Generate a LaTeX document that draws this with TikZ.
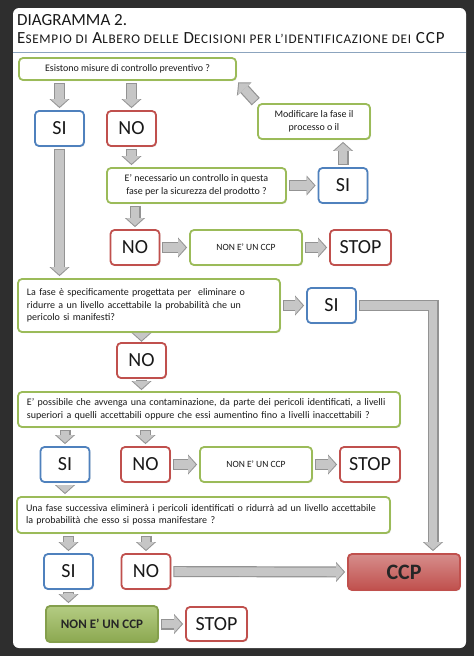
\documentclass[tikz,border=0pt]{standalone}
\usepackage{fontspec}
\setmainfont{Carlito}
\usepackage{tikz}
\usetikzlibrary{positioning, shapes, calc, arrows.meta, shadows}

\definecolor{boxgreen}{RGB}{155,187,89}
\definecolor{boxblue}{RGB}{79,129,189}
\definecolor{boxred}{RGB}{192,80,77}
\definecolor{rulegray}{RGB}{140,164,190}
\definecolor{inkgray}{RGB}{25,25,25}
\newcommand{\minorcaps}[1]{{\fontsize{13.2}{14}\selectfont #1}}

\begin{document}
\begin{tikzpicture}[x=1pt,y=-1pt,
	every node/.append style={text=inkgray, font=\fontsize{10}{12.5}\selectfont},
	box/.style={draw=#1, line width=1.8pt, fill=white, rounded corners=4pt, inner sep=0pt,
		drop shadow={opacity=.2, shadow xshift=1pt, shadow yshift=-1.2pt}},
	ans/.style={box=#1, minimum width=\answ pt, minimum height=\boxh pt, font=\fontsize{20}{20}\selectfont},
	quest/.style={box=boxgreen, align=left, text width=#1, inner xsep=9pt, minimum height=\boxh pt},
	garrow/.style={
		preaction={draw=gray!85, line width=11pt, shorten <=#1, shorten >=#1,
			-{Triangle[width=20pt,length=9pt,line width=0pt]}},
		draw=gray!45, line width=8.6pt, shorten <=#1+1pt, shorten >=#1+1.4pt,
		-{Triangle[width=17pt,length=7.5pt,line width=0pt]}},
	garrow/.default=2pt]

% set box dimensions
\pgfmathsetmacro{\answ}{49}
\pgfmathsetmacro{\boxh}{35}
\pgfmathsetmacro{\wide}{112}

% dark frame and white sheet
\fill[black!82] (0,0) rectangle (474,656);
\fill[white, rounded corners=6pt] (13,8) rectangle (466,648);

% title
\node[anchor=base west, inner sep=0pt, font=\fontsize{17}{17}\selectfont] (t1) at (17,25) {DIAGRAMMA 2.};
\node[anchor=base west, inner sep=0pt, font=\fontsize{17}{17}\selectfont\addfontfeature{LetterSpace=5.5}] (t2) at (17,43)
	{E\minorcaps{SEMPIO DI} A\minorcaps{LBERO DELLE} D\minorcaps{ECISIONI PER L’IDENTIFICAZIONE DEI} CCP};
\draw[rulegray, line width=1pt] (13,52) -- (466,52);

% first question
\node[box=boxgreen, minimum width=217pt, minimum height=22pt] (q1) at (127.5,69) {Esistono misure di controllo preventivo ?};
\node[ans=boxblue] (si1) at (59.5,128.5) {SI};
\node[ans=boxred] (no1) at (131.5,128.5) {NO};
\node[box=boxgreen, align=center, minimum width=\wide pt, minimum height=\boxh pt] (mod) at (314,121.5) {Modificare la fase il\\processo o il};
\node[box=boxgreen, align=center, minimum width=179pt, minimum height=\boxh pt] (q2) at (196.5,185.5)
	{E’ necessario un controllo in questa\\fase per la sicurezza del prodotto ?};
\node[ans=boxblue] (si2) at (343,185.5) {SI};
\node[ans=boxred] (no2) at (135,247.5) {NO};
\node[box=boxgreen, minimum width=\wide pt, minimum height=\boxh pt, font=\fontsize{9.5}{9.5}\selectfont] (nc1) at (246,247.5) {NON E’ UN CCP};
\node[ans=boxred, minimum width=61pt] (stop1) at (360.5,247.5) {STOP};

\draw[garrow] (si1 |- q1.south) -- (si1.north);
\draw[garrow] (no1 |- q1.south) -- (no1.north);
\draw[garrow] (no1.south) -- (no1 |- q2.north);
\draw[garrow] (q2.east) -- (si2.west);
\draw[garrow] (si2.north) -- (si2 |- mod.south);
\draw[garrow] (mod.north west) -- (q1.south east);
\draw[garrow] (no2 |- q2.south) -- (no2.north);
\draw[garrow] (no2.east) -- (nc1.west);
\draw[garrow] (nc1.east) -- (stop1.west);

% second question
\node[quest=244pt, minimum height=53pt] (q3) at (149,305.5)
	{La fase è specificamente progettata per\ \ eliminare o\\ridurre a un livello accettabile la probabilità che un\\pericolo si manifesti?};
\node[ans=boxblue] (si3) at (331.5,305.5) {SI};
\node[ans=boxred] (no3) at (141.5,360.5) {NO};
\node[box=boxred, minimum width=\wide pt, minimum height=36pt, top color=boxred!65, bottom color=boxred,
	font=\fontsize{22}{22}\selectfont\bfseries, text=black!85] (ccp) at (404,572) {CCP};

\draw[garrow] (si1.south) -- (si1 |- q3.north);
\draw[garrow] (q3.east) -- (si3.west);
\draw[garrow] (si3.east) -| ([xshift=29pt]ccp.north);
\draw[garrow=0.3pt] (no3 |- q3.south) -- (no3.north);

% third question
\node[quest=364pt] (q4) at (209,409.5)
	{E’ possibile che avvenga una contaminazione, da parte dei pericoli identificati, a livelli\\superiori a quelli accettabili oppure che essi aumentino fino a livelli inaccettabili ?};
\node[ans=boxblue] (si4) at (65,464.5) {SI};
\node[ans=boxred] (no4) at (145.5,464.5) {NO};
\node[box=boxgreen, minimum width=\wide pt, minimum height=\boxh pt, font=\fontsize{9.5}{9.5}\selectfont] (nc2) at (256,464.5) {NON E’ UN CCP};
\node[ans=boxred, minimum width=60pt] (stop2) at (370,464.5) {STOP};

\draw[garrow=1pt] (no3.south) -- (no3 |- q4.north);
\draw[garrow] (si4 |- q4.south) -- (si4.north);
\draw[garrow] (no4 |- q4.south) -- (no4.north);
\draw[garrow] (no4.east) -- (nc2.west);
\draw[garrow] (nc2.east) -- (stop2.west);

% fourth question
\node[quest=355pt, minimum height=36pt] (q5) at (203.5,515)
	{Una fase successiva eliminerà i pericoli identificati o ridurrà ad un livello accettabile\\la probabilità che esso si possa manifestare ?};
\node[ans=boxblue] (si5) at (68.5,571.5) {SI};
\node[ans=boxred] (no5) at (146,571.5) {NO};
\node[box=boxgreen!85!black, minimum width=\wide pt, minimum height=36pt, top color=boxgreen!75, bottom color=boxgreen!90!black,
	font=\fontsize{13}{13}\selectfont\bfseries, text=black!85] (nc3) at (102,624) {NON E’ UN CCP};
\node[ans=boxred, minimum width=61pt, minimum height=34pt] (stop3) at (216.5,624) {STOP};

\draw[garrow] (si4.south) -- (si4 |- q5.north);
\draw[garrow] (si5 |- q5.south) -- (si5.north);
\draw[garrow] (no5 |- q5.south) -- (no5.north);
\draw[garrow] (no5.east) -- (ccp.west);
\draw[garrow] (si5.south) -- (si5 |- nc3.north);
\draw[garrow] (nc3.east) -- (stop3.west);

\end{tikzpicture}
\end{document}
